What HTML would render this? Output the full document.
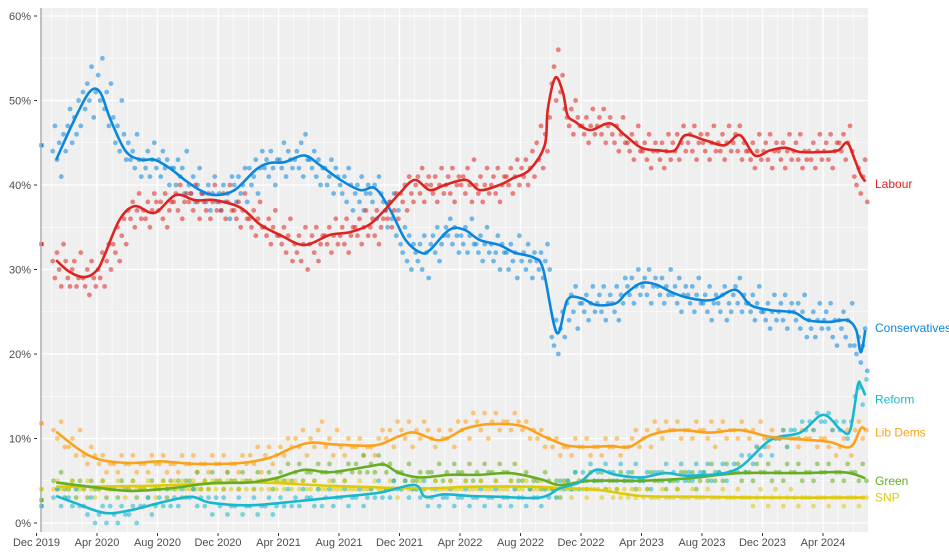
<!DOCTYPE html>
<html><head><meta charset="utf-8"><style>
body{margin:0;background:#fff;}
svg{display:block;font-family:"Liberation Sans",sans-serif;}
</style></head><body>
<svg id="chart" width="949" height="553" viewBox="0 0 949 553" xmlns="http://www.w3.org/2000/svg">
<rect x="40" y="8" width="828" height="524" fill="#efefef"/>
<g id="grid"></g>
<g id="polls"></g>
<g id="results"></g>
<g id="lines"></g>
<line x1="41" y1="8" x2="41" y2="532" stroke="#b0b0b0" stroke-width="1.5"/>
<g id="axes"></g>
<g id="labels"></g>
</svg>
<script>
const NS='http://www.w3.org/2000/svg';
const yTicks=[0,10,20,30,40,50,60];
const xTickLabels=['Dec 2019','Apr 2020','Aug 2020','Dec 2020','Apr 2021','Aug 2021','Dec 2021','Apr 2022','Aug 2022','Dec 2022','Apr 2023','Aug 2023','Dec 2023','Apr 2024'];
const partyNames=['Conservatives','Labour','Lib Dems','Green','SNP','Reform'];
const partyColors=['#0a87dc','#dc2420','#fba21a','#67ad22','#dfca0a','#17b7d0'];
const electionResults=[44.7,33.0,11.8,2.7,4.0,2.0];
const labelY=[23.1,40.1,10.7,5.0,3.0,14.6];
const conTrendM=[1.3,2.5,3.5,4.2,4.9,5.9,6.9,7.8,8.8,9.8,10.8,11.8,13.1,14.5,15.4,16.4,17.7,18.7,20.1,21.4,22.4,23.4,24.4,25.4,26,27.3,28.3,29.3,30.6,31.6,32.9,33.5,34.4,35.1,36,37,38.3,39,40,41,42,43.2,44.7,46.2,47.2,48.5,50.1,51,52.4,53.6,54.2,54.5,54.8];
const conTrendV=[43,47.7,51,51,47.7,44,43,43,42,40.6,39.4,38.8,39.4,41.8,42.6,42.7,43.5,42.4,40.6,39.4,39.6,37,33.5,32,32.3,34.7,34.7,33.5,32.9,32,31.4,30,22.5,26.4,26.6,25.8,26,27.2,28.4,28.2,27.3,26.6,26.4,27.6,25.8,25.2,24.9,24,23.8,24,22.8,20.2,22.8];
const labTrendM=[1.3,2.2,3.2,4,4.5,5.5,6.5,7.8,9.2,10.5,11.8,13.5,14.8,16.1,17.7,19.4,20.7,22,23,24,25,26,27,28.4,29.3,30.6,31.5,32.6,33.6,33.8,34.3,34.8,35.1,35.6,36.6,37.9,38.9,40,41.2,42.2,42.9,44.2,45.5,46.5,47.5,48.5,49.5,50.5,52,53,53.6,54.1,54.5,54.8];
const labTrendV=[31.1,29.7,29.1,29.9,31.7,35.9,37.5,36.7,38.8,38.2,38.2,37.3,35.3,34.1,32.9,34.1,34.4,35.3,37,39,40.6,39.4,40,40.6,39.4,40,40.8,41.8,44.7,48.9,52.7,51,48.3,47.5,46.5,47.3,45.9,44.4,44.1,44.1,45.9,45.3,44.7,45.9,43.5,44.1,44.4,43.9,43.9,44.1,45,43,41.2,40.4];
const ldTrendM=[1.3,2.9,4.2,6.2,8.2,10.5,13.5,15.4,16.8,18.1,19.7,22.4,24,25,26.7,28.4,30,32,33.6,35,36.3,38,39.2,40.6,42.5,44.5,46.5,48.5,50.5,52.4,53.8,54.5,54.8];
const ldTrendV=[10.8,8.6,7.5,7.1,7.3,7,7.1,7.7,8.8,9.5,9.3,9.2,10.3,10.7,9.8,11.2,11.7,11.5,10.2,9.2,9,9.1,9,10.4,11,10.7,11,10.2,9.9,9.6,9,11.2,11];
const grnTrendM=[1.3,3.5,6.2,8.8,11.5,14.1,15.8,17.7,19.4,22,23,24,25.4,27.3,29.3,31.3,33.3,34.6,36.6,40,43.2,46.5,50.5,53.4,54.8];
const grnTrendV=[4.8,4.3,3.8,4.1,4.7,4.8,5.3,6.3,6,6.7,6.9,5.9,5.4,5.7,5.7,5.9,5.2,4.5,5,5,5.3,5.9,5.9,6,5.3];
const snpTrendM=[1.3,7.5,14.1,19.4,25.4,28.7,32.6,35,37.2,40,44,47.8,54.8];
const snpTrendV=[4.3,4.4,4.8,4.4,4.1,4.3,4.3,4.1,3.9,3.2,3.1,3.0,3.0];
const refTrendM=[1.3,2.5,4.5,6.2,8.2,10.2,11.5,14.1,17.4,20.1,22.7,25,25.7,27,28.7,30.6,33.3,34.6,35.9,37,38.3,40,41.6,43.2,46.2,48.5,50.5,52,53.2,53.8,54.3,54.5,54.8];
const refTrendV=[3.2,2.4,1.2,1.5,2.4,3.1,2.4,2.1,2.6,3.1,3.6,4.5,3.1,3.4,3.2,3.1,3.0,4.1,4.8,6.3,5.7,5.4,5.9,5.6,6.3,9.8,10.7,12.8,11,11,16.3,16.3,15.1];
const conPolls="44 47 43 45 41 46 44|47 49 45 48 46 50 47|51 49 52 50 54 48 51|53 50 55 49 51 47 52|48 45 47 44 50 46 43|45 43 44 42 46 43 41|43 42 44 41 43 45 42|43 41 44 42 43 40 42|42 40 43 41 42 39 44|40 39 41 38 40 42 39|39 38 40 37 39 41 38|39 37 40 38 39 36 41|40 38 41 39 40 42 38|42 40 41 43 39 42 44|42 43 41 44 42 40 43|43 42 45 41 44 43 42|43 44 42 45 41 46 43|43 42 44 41 43 40 42|42 40 41 43 39 42 41|40 39 41 38 42 40 37|39 40 38 41 37 39 40|39 38 40 36 41 39 38|37 35 38 36 39 34 37|33 32 35 31 34 30 33|32 31 33 30 34 32 29|33 34 32 35 31 33 34|35 34 36 33 35 34 32|34 33 35 32 34 36 33|33 32 34 31 33 35 32|33 31 32 34 30 33 32|32 30 33 31 32 29 34|31 32 30 33 31 29 32|31 30 32 29 31 33 30|22 21 24 20 23 25 22|26 24 27 25 28 23 26|26 25 27 24 26 28 25|26 27 25 28 24 26 27|26 25 28 24 27 26 29|28 27 29 26 28 30 27|28 29 27 30 26 28 29|28 27 29 26 28 27 30|27 28 26 29 25 27 28|27 26 28 25 27 29 26|26 27 25 28 24 26 27|26 25 27 28 24 26 25|27 28 26 29 25 27 26|26 25 27 24 26 28 25|25 24 26 23 25 27 24|25 26 24 27 23 25 26|25 24 26 23 25 27 22|24 23 25 22 24 26 23|24 25 23 26 22 24 21|24 23 25 22 24 21 26|21 20 22 19 21 23 18";
const labPolls="31 29 32 30 28 33 31|29 28 30 31 28 29 32|29 28 30 27 31 29 28|30 29 32 28 31 33 30|33 32 35 31 34 36 33|37 36 38 35 37 39 36|37 36 38 35 37 39 38|37 38 36 39 35 37 38|38 39 37 40 36 38 39|38 39 37 40 38 36 39|38 37 39 36 38 40 37|38 37 39 36 38 40 37|37 36 38 35 37 39 36|36 35 37 34 36 38 35|35 34 36 33 35 37 34|34 33 35 32 34 36 31|33 32 34 31 33 35 30|33 34 32 35 31 33 34|34 33 35 32 34 36 33|34 35 33 36 32 34 35|35 34 36 33 35 37 34|35 36 34 37 33 35 36|37 36 38 35 37 39 36|39 38 40 37 41 39 38|40 41 39 42 38 40 41|40 39 41 38 40 42 39|40 41 39 42 38 40 41|40 41 39 42 40 38 43|40 39 41 38 40 42 39|40 41 39 42 38 40 41|41 40 42 39 41 43 40|42 41 43 40 42 44 41|45 43 47 42 46 44 48|52 54 50 56 51 53 49|48 47 49 46 50 48 47|47 46 48 45 47 49 46|47 48 46 49 45 47 48|46 45 47 44 46 48 45|45 44 46 43 45 47 44|44 45 43 46 42 44 45|44 43 45 42 44 46 43|45 44 46 43 45 47 44|45 46 44 47 43 45 46|45 44 46 43 45 47 44|45 44 46 43 45 47 44|45 46 44 47 43 45 44|44 43 45 42 44 46 43|44 45 43 46 42 44 45|44 43 45 42 44 46 43|44 45 43 46 42 44 43|44 43 45 42 44 46 43|44 45 43 46 42 44 45|45 44 46 43 45 47 44|41 40 42 39 41 43 38";
const ldPolls="11 10 12 9|9 10 8 11|8 7 9 8|7 8 6 7|7 6 8 7|7 8 6 7|7 6 8 7|7 8 6 7|7 6 8 7|7 8 6 7|7 6 8 7|7 8 6 7|7 6 8 7|8 7 9 6|8 9 7 8|9 8 10 9|10 9 11 8|10 9 11 12|9 10 8 11|9 8 10 9|9 10 8 9|9 8 10 11|10 11 9 12|11 10 12 9|11 10 12 11|10 9 11 10|10 11 9 12|11 12 10 13|12 11 13 10|12 13 11 12|12 11 13 12|11 12 10 11|10 11 9 10|9 10 8 9|9 8 10 9|9 10 8 9|9 8 10 9|9 10 8 9|9 10 11 9|10 11 9 12|11 10 12 11|11 12 10 11|11 10 12 11|11 10 12 9|11 12 10 11|11 10 12 11|10 11 9 12|10 9 11 10|10 11 9 10|10 9 11 10|10 11 9 10|10 9 11 8|9 10 11 8|11 12 10 11";
const grnPolls="5 4 6 4|4 5 3 5|4 3 5 4|4 5 3 4|4 3 5 4|4 5 3 4|4 3 5 4|4 5 3 5|4 5 3 5|5 4 6 4|5 4 6 5|5 4 6 5|5 4 6 5|5 4 6 5|5 6 4 5|6 5 7 5|6 7 5 6|6 5 7 6|6 7 5 6|6 5 7 6|7 6 8 6|7 6 8 7|6 7 5 6|6 5 7 5|5 6 4 6|6 5 7 5|6 5 7 6|6 5 7 5|6 5 7 6|6 5 7 6|6 5 7 5|5 6 4 5|5 4 6 5|4 5 3 5|5 4 6 5|5 4 6 5|5 6 4 5|5 4 6 5|5 6 4 5|5 4 6 5|5 6 4 5|5 4 6 6|5 6 4 5|6 5 7 5|6 5 7 6|6 7 5 6|6 5 7 6|6 7 5 6|6 5 7 6|6 7 5 6|6 5 7 6|6 7 5 6|6 5 7 6|6 5 7 5";
const snpPolls="4 5 4 3|4 5 4 4|4 5 4 3|4 5 4 4|4 5 4 3|4 5 4 4|4 5 4 3|4 5 4 4|5 4 5 4|4 5 4 4|5 4 5 4|5 4 5 4|5 4 5 4|5 4 5 4|5 4 5 4|5 4 5 4|5 4 5 4|4 5 4 4|4 5 4 4|4 5 4 4|4 5 4 4|4 5 4 4|4 5 4 3|4 5 4 4|4 5 4 3|4 5 4 4|4 5 4 4|4 5 4 4|4 5 4 4|4 5 4 4|4 5 4 4|4 5 4 4|4 5 4 4|4 3 4 5|4 3 4 5|4 3 4 4|4 3 4 4|3 4 3 4|3 4 3 4|3 4 3 3|3 4 3 3|3 4 3 3|3 4 3 3|3 4 3 3|3 4 3 3|3 4 3 3|3 2 3 4|3 2 3 4|3 2 3 4|3 2 3 3|3 2 3 3|3 2 3 3|3 2 3 3|3 2 3 3";
const refPolls="3 4 2 3|3 2 4 2|2 1 3 0|1 2 0 2|1 0 2 1|1 2 0 2|2 3 1 2|3 2 4 2|3 2 4 3|3 4 2 3|2 3 1 3|2 3 1 2|2 3 1 2|2 3 1 2|2 3 1 2|3 2 4 2|3 2 4 3|3 2 4 2|3 4 2 3|3 4 2 3|3 4 2 3|4 3 5 3|4 3 5 4|4 5 3 4|4 3 5 2|3 4 2 3|3 4 2 3|3 4 2 3|3 4 2 3|3 4 2 3|3 2 4 3|3 2 4 3|3 2 4 3|4 3 5 4|5 4 6 4|6 5 7 5|6 5 7 6|6 5 7 5|6 5 7 5|5 6 4 6|6 5 7 5|6 5 7 5|6 5 7 6|6 7 5 6|6 7 5 6|7 6 8 6|8 7 9 8|9 10 8 10|10 11 9 11|11 10 12 11|12 11 13 12|12 13 11 12|11 12 10 12|15 16 14 17";
const allPolls=[conPolls,labPolls,ldPolls,grnPolls,snpPolls,refPolls];
const trendMs=[conTrendM,labTrendM,ldTrendM,grnTrendM,snpTrendM,refTrendM];
const trendVs=[conTrendV,labTrendV,ldTrendV,grnTrendV,snpTrendV,refTrendV];

function xScale(m){return 36.5+m*15.125;}
function yScale(v){return 523-v*8.45;}

const grid=document.getElementById('grid');
for(let v=0;v<=60;v+=5){
  const l=document.createElementNS(NS,'line');
  
  
  l.setAttribute('x1',40);l.setAttribute('x2',868);
  l.setAttribute('y1',yScale(v));l.setAttribute('y2',yScale(v));
  l.setAttribute('stroke','#fff');l.setAttribute('stroke-width',v%10===0?1.3:0.6);
  grid.appendChild(l);
}
for(let m=1;m<=55;m++){
  const l=document.createElementNS(NS,'line');
  
  
  l.setAttribute('x1',xScale(m));l.setAttribute('x2',xScale(m));
  l.setAttribute('y1',8);l.setAttribute('y2',532);
  l.setAttribute('stroke','#fff');l.setAttribute('stroke-width',m%4===0?1.3:0.6);
  grid.appendChild(l);
}
const axes=document.getElementById('axes');
yTicks.forEach(v=>{
  const t=document.createElementNS(NS,'text');
  
  
  t.setAttribute('x',31);t.setAttribute('y',yScale(v)+4);
  t.setAttribute('text-anchor','end');t.setAttribute('font-size','11');t.setAttribute('fill','#4d4d4d');
  t.textContent=v+'%';axes.appendChild(t);
  const k=document.createElementNS(NS,'line');
  
  
  k.setAttribute('x1',34);k.setAttribute('x2',37);k.setAttribute('y1',yScale(v));k.setAttribute('y2',yScale(v));
  k.setAttribute('stroke','#333');axes.appendChild(k);
});
xTickLabels.forEach((s,i)=>{
  const x=xScale(i*4);
  const t=document.createElementNS(NS,'text');
  
  
  t.setAttribute('x',x);t.setAttribute('y',546);
  t.setAttribute('text-anchor','middle');t.setAttribute('font-size','11');t.setAttribute('fill','#4d4d4d');
  t.textContent=s;axes.appendChild(t);
  const k=document.createElementNS(NS,'line');
  
  
  k.setAttribute('x1',x);k.setAttribute('x2',x);k.setAttribute('y1',533);k.setAttribute('y2',536);
  k.setAttribute('stroke','#333');axes.appendChild(k);
});
const polls=document.getElementById('polls');
allPolls.forEach((str,p)=>{
  str.split('|').forEach((row,i)=>{
    const vals=row.trim().split(/\s+/).map(Number);
    const mon=i+1;
    vals.forEach((v,j)=>{
      const c=document.createElementNS(NS,'circle');
      
      
      c.setAttribute('cx',xScale(mon+(j+0.5)/vals.length).toFixed(1));
      c.setAttribute('cy',yScale(v).toFixed(1));
      c.setAttribute('r',2.4);
      c.setAttribute('fill',partyColors[p]);c.setAttribute('fill-opacity','0.55');
      polls.appendChild(c);
    });
  });
});
const results=document.getElementById('results');
electionResults.forEach((v,p)=>{
  const r=document.createElementNS(NS,'rect');
  
  
  r.setAttribute('x',39.5);r.setAttribute('y',yScale(v)-2);r.setAttribute('width',4);r.setAttribute('height',4);
  r.setAttribute('fill',partyColors[p]);results.appendChild(r);
});
function smoothPath(pts){
  let d='M'+pts[0][0].toFixed(1)+','+pts[0][1].toFixed(1);
  for(let i=0;i<pts.length-1;i++){
    const p0=pts[Math.max(0,i-1)],p1=pts[i],p2=pts[i+1],p3=pts[Math.min(pts.length-1,i+2)];
    const c1x=p1[0]+(p2[0]-p0[0])/6,c1y=p1[1]+(p2[1]-p0[1])/6;
    const c2x=p2[0]-(p3[0]-p1[0])/6,c2y=p2[1]-(p3[1]-p1[1])/6;
    d+=' C'+c1x.toFixed(1)+','+c1y.toFixed(1)+' '+c2x.toFixed(1)+','+c2y.toFixed(1)+' '+p2[0].toFixed(1)+','+p2[1].toFixed(1);
  }
  return d;
}
const lines=document.getElementById('lines');
const order=[4,3,5,2,0,1];
order.forEach(p=>{
  const pts=trendMs[p].map((m,i)=>[xScale(m),yScale(trendVs[p][i])]);
  const path=document.createElementNS(NS,'path');
  
  
  path.setAttribute('d',smoothPath(pts));
  path.setAttribute('fill','none');path.setAttribute('stroke',partyColors[p]);
  path.setAttribute('stroke-width','2.6');path.setAttribute('stroke-linejoin','round');
  lines.appendChild(path);
});
const labels=document.getElementById('labels');
partyNames.forEach((n,p)=>{
  const t=document.createElementNS(NS,'text');
  
  
  t.setAttribute('x',875);t.setAttribute('y',yScale(labelY[p])+4);
  t.setAttribute('font-size','12');t.setAttribute('fill',partyColors[p]);
  t.textContent=n;labels.appendChild(t);
});
</script>
</body></html>
